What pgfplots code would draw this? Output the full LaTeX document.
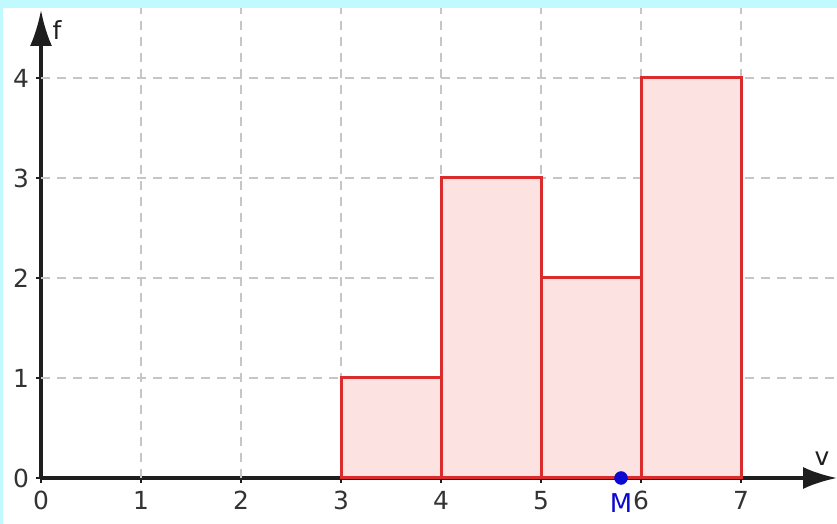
\documentclass[border=0pt]{standalone}
\usepackage{pgfplots}
\pgfplotsset{compat=1.18}
\usepackage{fontspec}
\setmainfont{DejaVu Sans}
\usetikzlibrary{arrows.meta}
\definecolor{bgcyan}{RGB}{192,250,255}
\definecolor{barfill}{RGB}{253,226,226}
\definecolor{baredge}{RGB}{218,44,44}
\definecolor{gridgray}{RGB}{198,198,198}
\definecolor{axisdark}{RGB}{30,30,30}
\definecolor{mblue}{RGB}{10,10,210}
\pgfplotsset{
  common/.style={at={(0,0)}, anchor=south west, scale only axis,
    width=834bp, height=516bp,
    xmin=-0.38, xmax=7.96, ymin=-0.46, ymax=4.70, clip=false},
}
\begin{document}
\begin{tikzpicture}
\useasboundingbox (-3bp,0) rectangle (834bp,524bp);
\fill[bgcyan] (-3bp,0) rectangle (834bp,524bp);
\fill[white] (0,0) rectangle (834bp,516bp);
\begin{axis}[
  common,
  axis lines=middle,
  axis line style={axisdark, line width=3.4bp},
  x axis line style={-{Latex[length=34bp,width=22bp]}, shorten <=38bp, shorten >=0bp},
  y axis line style={-{Latex[length=36bp,width=22bp]}, shorten <=46bp, shorten >=2bp},
  xtick={0,1,...,7}, ytick={0,1,...,4},
  hide obscured x ticks=false, hide obscured y ticks=false,
  tick align=center, major tick length=9bp,
  tick style={axisdark, line width=2.2bp},
  /pgf/number format/assume math mode=true,
  ticklabel style={font=\fontsize{25}{28}\selectfont, text=black!80},
  xticklabel style={anchor=north, yshift=-5bp},
  yticklabel style={anchor=east, xshift=-4bp},
]
\pgfplotsinvokeforeach{1,...,7}{
  \draw[gridgray, line width=1.5bp, dash pattern=on 9bp off 7bp] (axis cs:#1,0) -- (axis cs:#1,4.70);
}
\pgfplotsinvokeforeach{1,...,4}{
  \draw[gridgray, line width=1.5bp, dash pattern=on 9bp off 7bp] (axis cs:0,#1) -- (axis cs:7.96,#1);
}
\node[axisdark, font=\fontsize{25}{28}\selectfont] at (axis cs:0.16,4.48) {f};
\node[axisdark, font=\fontsize{25}{28}\selectfont] at (axis cs:7.81,0.19) {v};
\end{axis}
\begin{axis}[common, hide axis]
\addplot[ybar interval, fill=barfill, draw=baredge, line width=3bp]
  coordinates {(3,1) (4,3) (5,2) (6,4) (7,4)};
\addplot[only marks, mark=*, mark size=6.5bp, mblue]
  coordinates {(5.8,0)};
\node[mblue, font=\fontsize{26}{28}\selectfont, anchor=north] at (axis cs:5.8,-0.12) {M};
\end{axis}
\end{tikzpicture}
\end{document}
